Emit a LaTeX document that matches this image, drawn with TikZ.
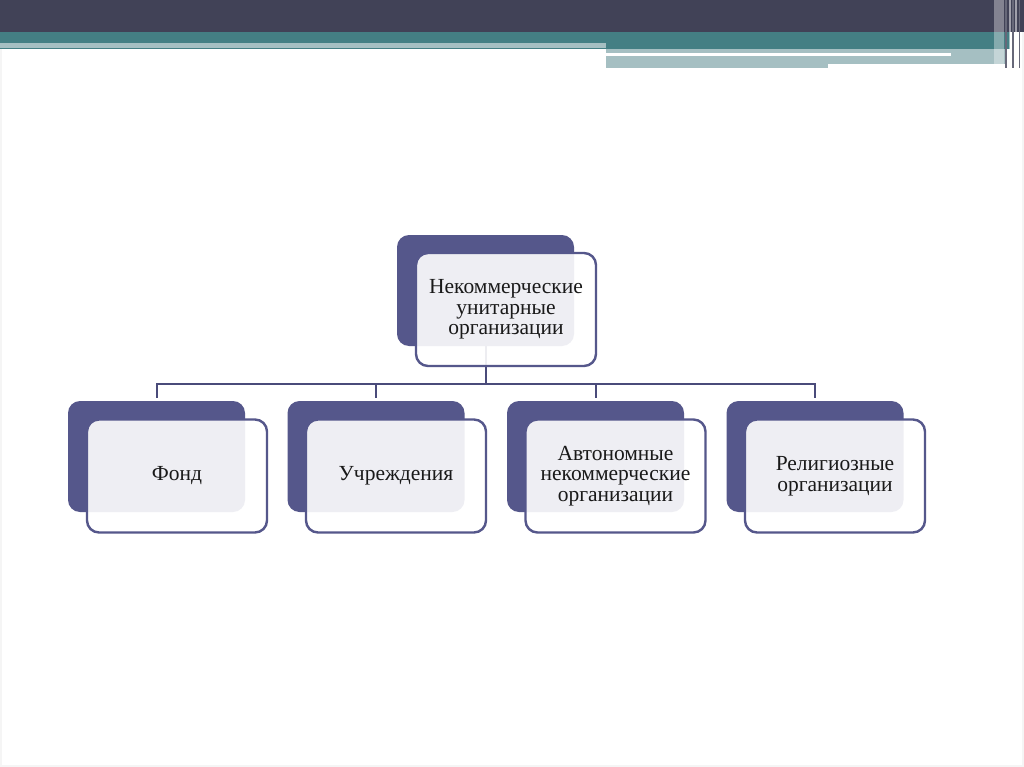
\documentclass[tikz,border=0pt]{standalone}
\usepackage{fontspec}
\setmainfont{Liberation Serif}

\definecolor{bandDark}{HTML}{414257}
\definecolor{bandTeal}{HTML}{447F84}
\definecolor{bandLight}{HTML}{A5BFC2}
\definecolor{boxBlue}{HTML}{55578B}
\definecolor{linkBlue}{HTML}{4A4B7A}

\begin{document}
\begin{tikzpicture}[x=1pt, y=-1pt,
  back/.style={rectangle, rounded corners=12pt, fill=boxBlue, minimum width=177pt, minimum height=111pt},
  front/.style={rectangle, rounded corners=12pt, draw=boxBlue, line width=2.4pt, fill=white, fill opacity=0.9, text opacity=1, minimum width=180pt, minimum height=113pt, align=center, font=\fontsize{21.5}{20.5}\selectfont, text=black!90},
  link/.style={draw=linkBlue, line width=2pt}]

\useasboundingbox (0,0) rectangle (1024,767);
\fill[white] (0,0) rectangle (1024,767);
\draw[black!4, line width=1.5pt] (1,1) rectangle (1023,766);

% header bands
\fill[bandDark] (0,0) rectangle (1024,32);
\fill[bandTeal] (0,32) rectangle (1010,49);
\fill[bandLight] (0,43) rectangle (606,48);
\fill[bandLight] (606,49) rectangle (1007,64);
\fill[bandLight] (606,64) rectangle (828,68);
\fill[white] (606,53) rectangle (951,56);
\fill[white, opacity=0.35] (994,0) rectangle (1004,68);
\draw[bandDark!80, line width=1.2pt] (1006,0) -- (1006,68);
\draw[white, opacity=0.5, line width=1.5pt] (1010,0) -- (1010,68);
\draw[bandDark!80, line width=1.2pt] (1013,0) -- (1013,68);
\draw[white, opacity=0.5, line width=1.5pt] (1016,0) -- (1016,68);
\draw[bandDark!80, line width=1pt] (1019.5,0) -- (1019.5,68);

% back boxes
\node (topBack)[back] at (485.5, 290.5) {};
\node (fondBack)[back] at (156.5, 456.5) {};
\node (uchrBack)[back] at (376, 456.5) {};
\node (anoBack)[back] at (595.5, 456.5) {};
\node (relBack)[back] at (815, 456.5) {};

% connectors
\coordinate (bus) at (485.5, 383.5);
\draw[link] (topBack.south) -- (bus);
\draw[link, shorten >=3pt] (bus) -| (fondBack.north);
\draw[link, shorten >=3pt] (bus) -| (uchrBack.north);
\draw[link, shorten >=3pt] (bus) -| (anoBack.north);
\draw[link, shorten >=3pt] (bus) -| (relBack.north);

% front boxes
\node (top)[front] at (506, 309.5) {Некоммерческие\\унитарные\\организации};
\node (fond)[front] at (177, 476) {Фонд};
\node (uchr)[front] at (396, 476) {Учреждения};
\node (ano)[front] at (615.5, 476) {Автономные\\некоммерческие\\организации};
\node (rel)[front] at (835, 476) {Религиозные\\организации};

\end{tikzpicture}
\end{document}
